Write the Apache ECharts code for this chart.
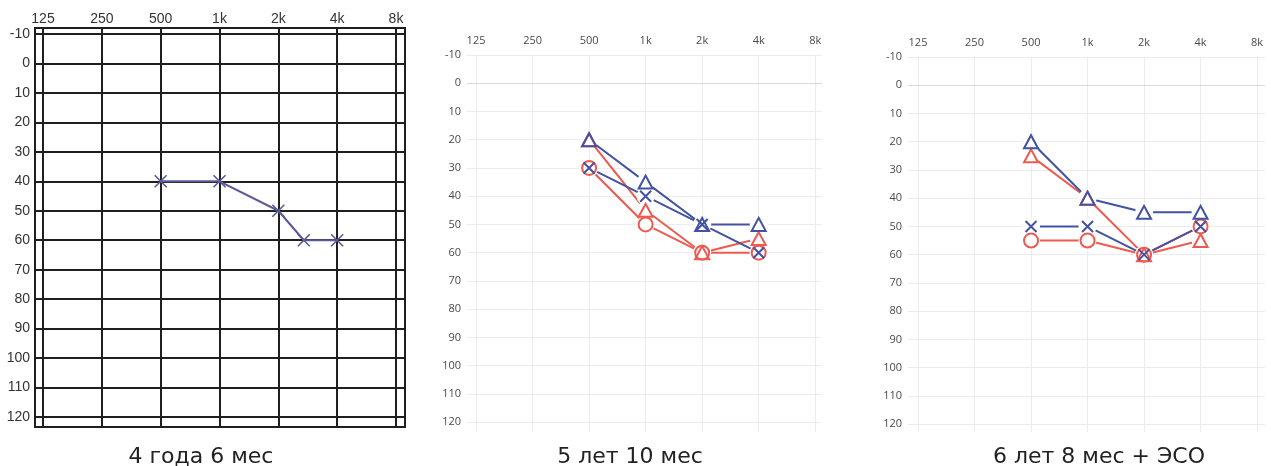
<!DOCTYPE html>
<html>
<head>
<meta charset="utf-8">
<script src="https://cdn.jsdelivr.net/npm/echarts@6/dist/echarts.min.js"></script>
<style>
html,body{margin:0;padding:0;background:#fff;}
#chart{width:1271px;height:466px;}
</style>
</head>
<body>
<div id="chart"></div>
<script>
// ---------- data ----------
const FREQ_TICKS = [125, 250, 500, 1000, 2000, 4000, 8000];
const FREQ_LABELS = ['125', '250', '500', '1k', '2k', '4k', '8k'];
const DB_TICKS = [-10, 0, 10, 20, 30, 40, 50, 60, 70, 80, 90, 100, 110, 120];
const TITLES = ['4 года 6 мес', '5 лет 10 мес', '6 лет 8 мес + ЭСО'];

// panel 1 (4 years 6 months)
const p1Freqs = [500, 1000, 2000, 2700, 4000];
const p1Cross = [40, 40, 50, 60, 60];

// panels 2 and 3 share the standard frequencies
const stdFreqs = [500, 1000, 2000, 4000];
// panel 2 (5 years 10 months)
const p2BlueTri = [20, 35, 50, 50];
const p2BlueX = [30, 40, 50, 60];
const p2RedTri = [20, 45, 60, 55];
const p2RedCircle = [30, 50, 60, 60];
// panel 3 (6 years 8 months + ESO)
const p3BlueTri = [20, 40, 45, 45];
const p3RedTri = [25, 40, 60, 55];
const p3BlueX = [50, 50, 60, 50];
const p3RedCircle = [55, 55, 60, 50];

// ---------- styles ----------
const BLUE = '#4352a3';
const RED = '#ee5a50';
const P1_INK = '#5a5a96';
const GRID_INK = '#1f1f1f';
const LIGHT = '#ececec';
const X_PATH = 'path://M0,0L10,10M10,0L0,10';

const oct = f => Math.log2(f / 125);
const pairs = (fs, vs) => fs.map((f, i) => [oct(f), vs[i]]);

const grids = [
  {left: 35, top: 28, width: 370, height: 399, show: true, borderColor: GRID_INK, borderWidth: 2},
  {left: 467, top: 55, width: 355, height: 377},
  {left: 908, top: 57, width: 357, height: 375}
];
const xRanges = [[-0.136, 6.153], [-0.16, 6.12], [-0.177, 6.14]];
const yRanges = [[-12.04, 123.4], [-10, 123.5], [-10, 122.8]];

function xAxis(i) {
  const p1 = i === 0;
  return {
    type: 'value', gridIndex: i, position: 'top',
    min: xRanges[i][0], max: xRanges[i][1],
    axisLine: {show: false},
    axisTick: {show: false, customValues: FREQ_TICKS.map(oct)},
    axisLabel: {
      customValues: FREQ_TICKS.map(oct),
      formatter: v => FREQ_LABELS[Math.round(v)],
      margin: p1 ? 2 : 9,
      color: p1 ? '#333' : '#4a4a4a',
      fontSize: p1 ? 14 : 11,
      fontFamily: p1 ? 'Liberation Sans' : 'Open Sans'
    },
    splitLine: {show: true, lineStyle: {color: p1 ? GRID_INK : LIGHT, width: p1 ? 2 : 1}}
  };
}
function yAxis(i) {
  const p1 = i === 0;
  return {
    type: 'value', gridIndex: i, inverse: true,
    min: yRanges[i][0], max: yRanges[i][1],
    axisLine: {show: false},
    axisTick: {show: false, customValues: DB_TICKS},
    axisLabel: {
      customValues: DB_TICKS,
      margin: p1 ? 5 : 6,
      color: p1 ? '#333' : '#4a4a4a',
      fontSize: p1 ? 14 : 11,
      fontFamily: p1 ? 'Liberation Sans' : 'Open Sans'
    },
    splitLine: {show: true, lineStyle: {color: p1 ? GRID_INK : LIGHT, width: p1 ? 2 : 1}}
  };
}

const series = [];
// panel 1: continuous line through crosses
series.push({
  type: 'line', xAxisIndex: 0, yAxisIndex: 0, data: pairs(p1Freqs, p1Cross),
  symbol: X_PATH, symbolSize: 12, showSymbol: true,
  lineStyle: {color: P1_INK, width: 2},
  itemStyle: {color: 'transparent', borderColor: P1_INK, borderWidth: 1.6, opacity: 1},
  z: 3
});

// panels 2,3: lines with gaps around symbols
function addAudio(panel, values, color, symbol, size) {
  const d = pairs(stdFreqs, values);
  series.push({
    type: 'line', xAxisIndex: panel, yAxisIndex: panel, data: d,
    showSymbol: false, lineStyle: {color: color, width: 2}, z: 2, silent: true
  });
  series.push({
    type: 'scatter', xAxisIndex: panel, yAxisIndex: panel, data: d,
    symbol: 'circle', symbolSize: 18, itemStyle: {color: '#fff', opacity: 1}, z: 3, silent: true
  });
  series.push({
    type: 'scatter', xAxisIndex: panel, yAxisIndex: panel, data: d,
    symbol: symbol, symbolSize: size,
    itemStyle: {color: 'transparent', borderColor: color, borderWidth: 2, opacity: 1}, z: 4
  });
}
addAudio(1, p2RedCircle, RED, 'circle', 14);
addAudio(1, p2RedTri, RED, 'triangle', [14, 13]);
addAudio(1, p2BlueX, BLUE, X_PATH, 11);
addAudio(1, p2BlueTri, BLUE, 'triangle', [14, 13]);

addAudio(2, p3RedCircle, RED, 'circle', 14);
addAudio(2, p3RedTri, RED, 'triangle', [14, 13]);
addAudio(2, p3BlueX, BLUE, X_PATH, 11);
addAudio(2, p3BlueTri, BLUE, 'triangle', [14, 13]);

// slightly darker zero line in panels 2 and 3
[1, 2].forEach(p => {
  series.push({
    type: 'line', xAxisIndex: p, yAxisIndex: p, data: [], silent: true,
    markLine: {silent: true, symbol: ['none', 'none'], label: {show: false},
      lineStyle: {color: '#d9d9d9', width: 1, type: 'solid'}, data: [{yAxis: 0}]},
    z: 1
  });
});

const titleCenters = [201, 630, 1099];
const option = {
  animation: false,
  backgroundColor: '#fff',
  title: TITLES.map((t, i) => ({
    text: t, left: titleCenters[i], top: 446, textAlign: 'center', padding: 0,
    textStyle: {fontFamily: 'DejaVu Sans', fontSize: 22, fontWeight: 'normal', color: '#222'}
  })),
  grid: grids,
  xAxis: [0, 1, 2].map(xAxis),
  yAxis: [0, 1, 2].map(yAxis),
  series: series
};

const chart = echarts.init(document.getElementById('chart'), null, {renderer: 'canvas'});
chart.setOption(option);
</script>
</body>
</html>
